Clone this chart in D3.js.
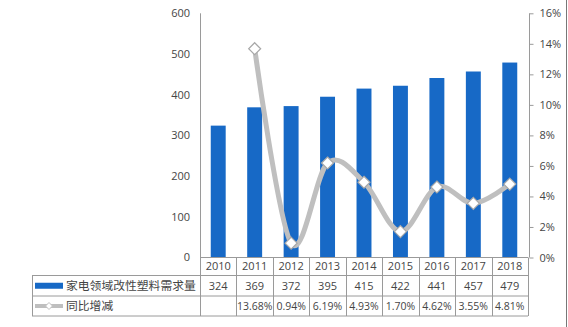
<!DOCTYPE html>
<html><head><meta charset="utf-8">
<script src="https://cdn.jsdelivr.net/npm/d3@7/dist/d3.min.js"></script>
<style>
html,body{margin:0;padding:0;background:#fff;}
svg{display:block;font-family:"Open Sans","Noto Sans CJK SC",sans-serif;}
</style></head><body>
<script>
const years = ['2010','2011','2012','2013','2014','2015','2016','2017','2018'];
const demand = [324,369,372,395,415,422,441,457,479];
const growth = [null,13.68,0.94,6.19,4.93,1.70,4.62,3.55,4.81];
const growthLabels = ['','13.68%','0.94%','6.19%','4.93%','1.70%','4.62%','3.55%','4.81%'];
const leftTicks = [0,100,200,300,400,500,600];
const rightTicks = [0,2,4,6,8,10,12,14,16];
const seriesNames = ['家电领域改性塑料需求量','同比增减'];

const W=568, H=327;
const x0=200, x1=528, yTop=13.3, yBase=257.5;
const rows=[257.5,275.5,296,316];
const legLeft=32;
const blue='#1769c6', grey='#bfbfbf', gridC='#9a9a9a', txt='#454545';

const svg=d3.select('body').append('svg').attr('width',W).attr('height',H);

const x=d3.scaleBand().domain(years).range([x0,x1]);
const yL=d3.scaleLinear().domain([0,600]).range([yBase,yTop]);
const yR=d3.scaleLinear().domain([0,16]).range([yBase,yTop]);

// bars
svg.append('g').selectAll('rect').data(years).join('rect')
  .attr('x',d=>x(d)+x.bandwidth()*0.295).attr('width',x.bandwidth()*0.41)
  .attr('y',(d,i)=>yL(demand[i])).attr('height',(d,i)=>yBase-yL(demand[i]))
  .attr('fill',blue);

// left axis labels
svg.append('g').selectAll('text').data(leftTicks).join('text')
  .attr('x',190).attr('y',d=>yL(d)).attr('dy','0.35em').attr('text-anchor','end')
  .attr('font-size',11).attr('fill',txt).text(d=>d);

// right axis
const ra=svg.append('g').attr('transform',`translate(${x1+1.5},0)`)
  .call(d3.axisRight(yR).tickValues(rightTicks).tickSize(4).tickPadding(6).tickFormat(d=>d+'%'));
ra.select('.domain').attr('stroke',gridC).attr('d',`M0,${yTop}V${yBase}`);
ra.selectAll('.tick line').attr('stroke',gridC);
ra.selectAll('.tick text').attr('font-size',11).attr('fill',txt).attr('font-family','"Open Sans",sans-serif');

// left axis line + x axis line
svg.append('line').attr('x1',x0+0.5).attr('x2',x0+0.5).attr('y1',yTop).attr('y2',rows[3]).attr('stroke',gridC);

// table grid
const g=svg.append('g').attr('stroke',gridC).attr('fill','none');
g.append('line').attr('x1',x0).attr('x2',x1).attr('y1',rows[0]).attr('y2',rows[0]);
[rows[1],rows[2],rows[3]].forEach(r=>g.append('line').attr('x1',legLeft).attr('x2',x1).attr('y1',r).attr('y2',r));
g.append('line').attr('x1',legLeft+0.5).attr('x2',legLeft+0.5).attr('y1',rows[1]).attr('y2',rows[3]);
years.forEach(d=>{
  const xx=Math.round(x(d)+x.bandwidth())+0.5;
  g.append('line').attr('x1',xx).attr('x2',xx).attr('y1',rows[0]).attr('y2',rows[3]);
});

// table texts
const cx=d=>x(d)+x.bandwidth()/2;
const tt=svg.append('g').attr('font-size',11).attr('fill',txt).attr('text-anchor','middle');
tt.selectAll('.yr').data(years).join('text').attr('class','yr').attr('x',cx).attr('y',(rows[0]+rows[1])/2).attr('dy','0.35em').text(d=>d);
tt.selectAll('.vl').data(years).join('text').attr('class','vl').attr('x',cx).attr('y',(rows[1]+rows[2])/2).attr('dy','0.35em').text((d,i)=>demand[i]);
tt.selectAll('.gr').data(years).join('text').attr('class','gr').attr('x',cx).attr('y',(rows[2]+rows[3])/2).attr('dy','0.35em').attr('font-size',10.5).text((d,i)=>growthLabels[i]);

// legend in table
const ly1=(rows[1]+rows[2])/2, ly2=(rows[2]+rows[3])/2;
svg.append('rect').attr('x',35).attr('y',ly1-3).attr('width',28).attr('height',6).attr('fill',blue);
svg.append('line').attr('x1',35).attr('x2',63).attr('y1',ly2).attr('y2',ly2).attr('stroke',grey).attr('stroke-width',4);
svg.append('path').attr('transform',`translate(49,${ly2})`).attr('d','M0,-3.5L3.5,0L0,3.5L-3.5,0Z').attr('fill','#fff').attr('stroke',grey);
const lt=svg.append('g').attr('font-size',11.8).attr('fill',txt).attr('font-family','"Noto Sans CJK SC",sans-serif');
lt.append('text').attr('x',66).attr('y',ly1).attr('dy','0.36em').text(seriesNames[0]);
lt.append('text').attr('x',66).attr('y',ly2).attr('dy','0.36em').text(seriesNames[1]);

// growth line
const pts=years.map((d,i)=>({d,v:growth[i]})).filter(p=>p.v!==null);
svg.append('path').datum(pts)
  .attr('d',d3.line().x(p=>cx(p.d)).y(p=>yR(p.v)).curve(d3.curveCardinal.tension(0)))
  .attr('fill','none').attr('stroke',grey).attr('stroke-width',5);
svg.append('g').selectAll('path').data(pts).join('path')
  .attr('transform',p=>`translate(${cx(p.d)},${yR(p.v)})`)
  .attr('d','M0,-6L6,0L0,6L-6,0Z').attr('fill','#fff').attr('stroke','#a8a8a8').attr('stroke-width',1.2);

// frame edge
svg.append('line').attr('x1',566.5).attr('x2',566.5).attr('y1',0).attr('y2',H).attr('stroke','#777');
</script>
</body></html>
